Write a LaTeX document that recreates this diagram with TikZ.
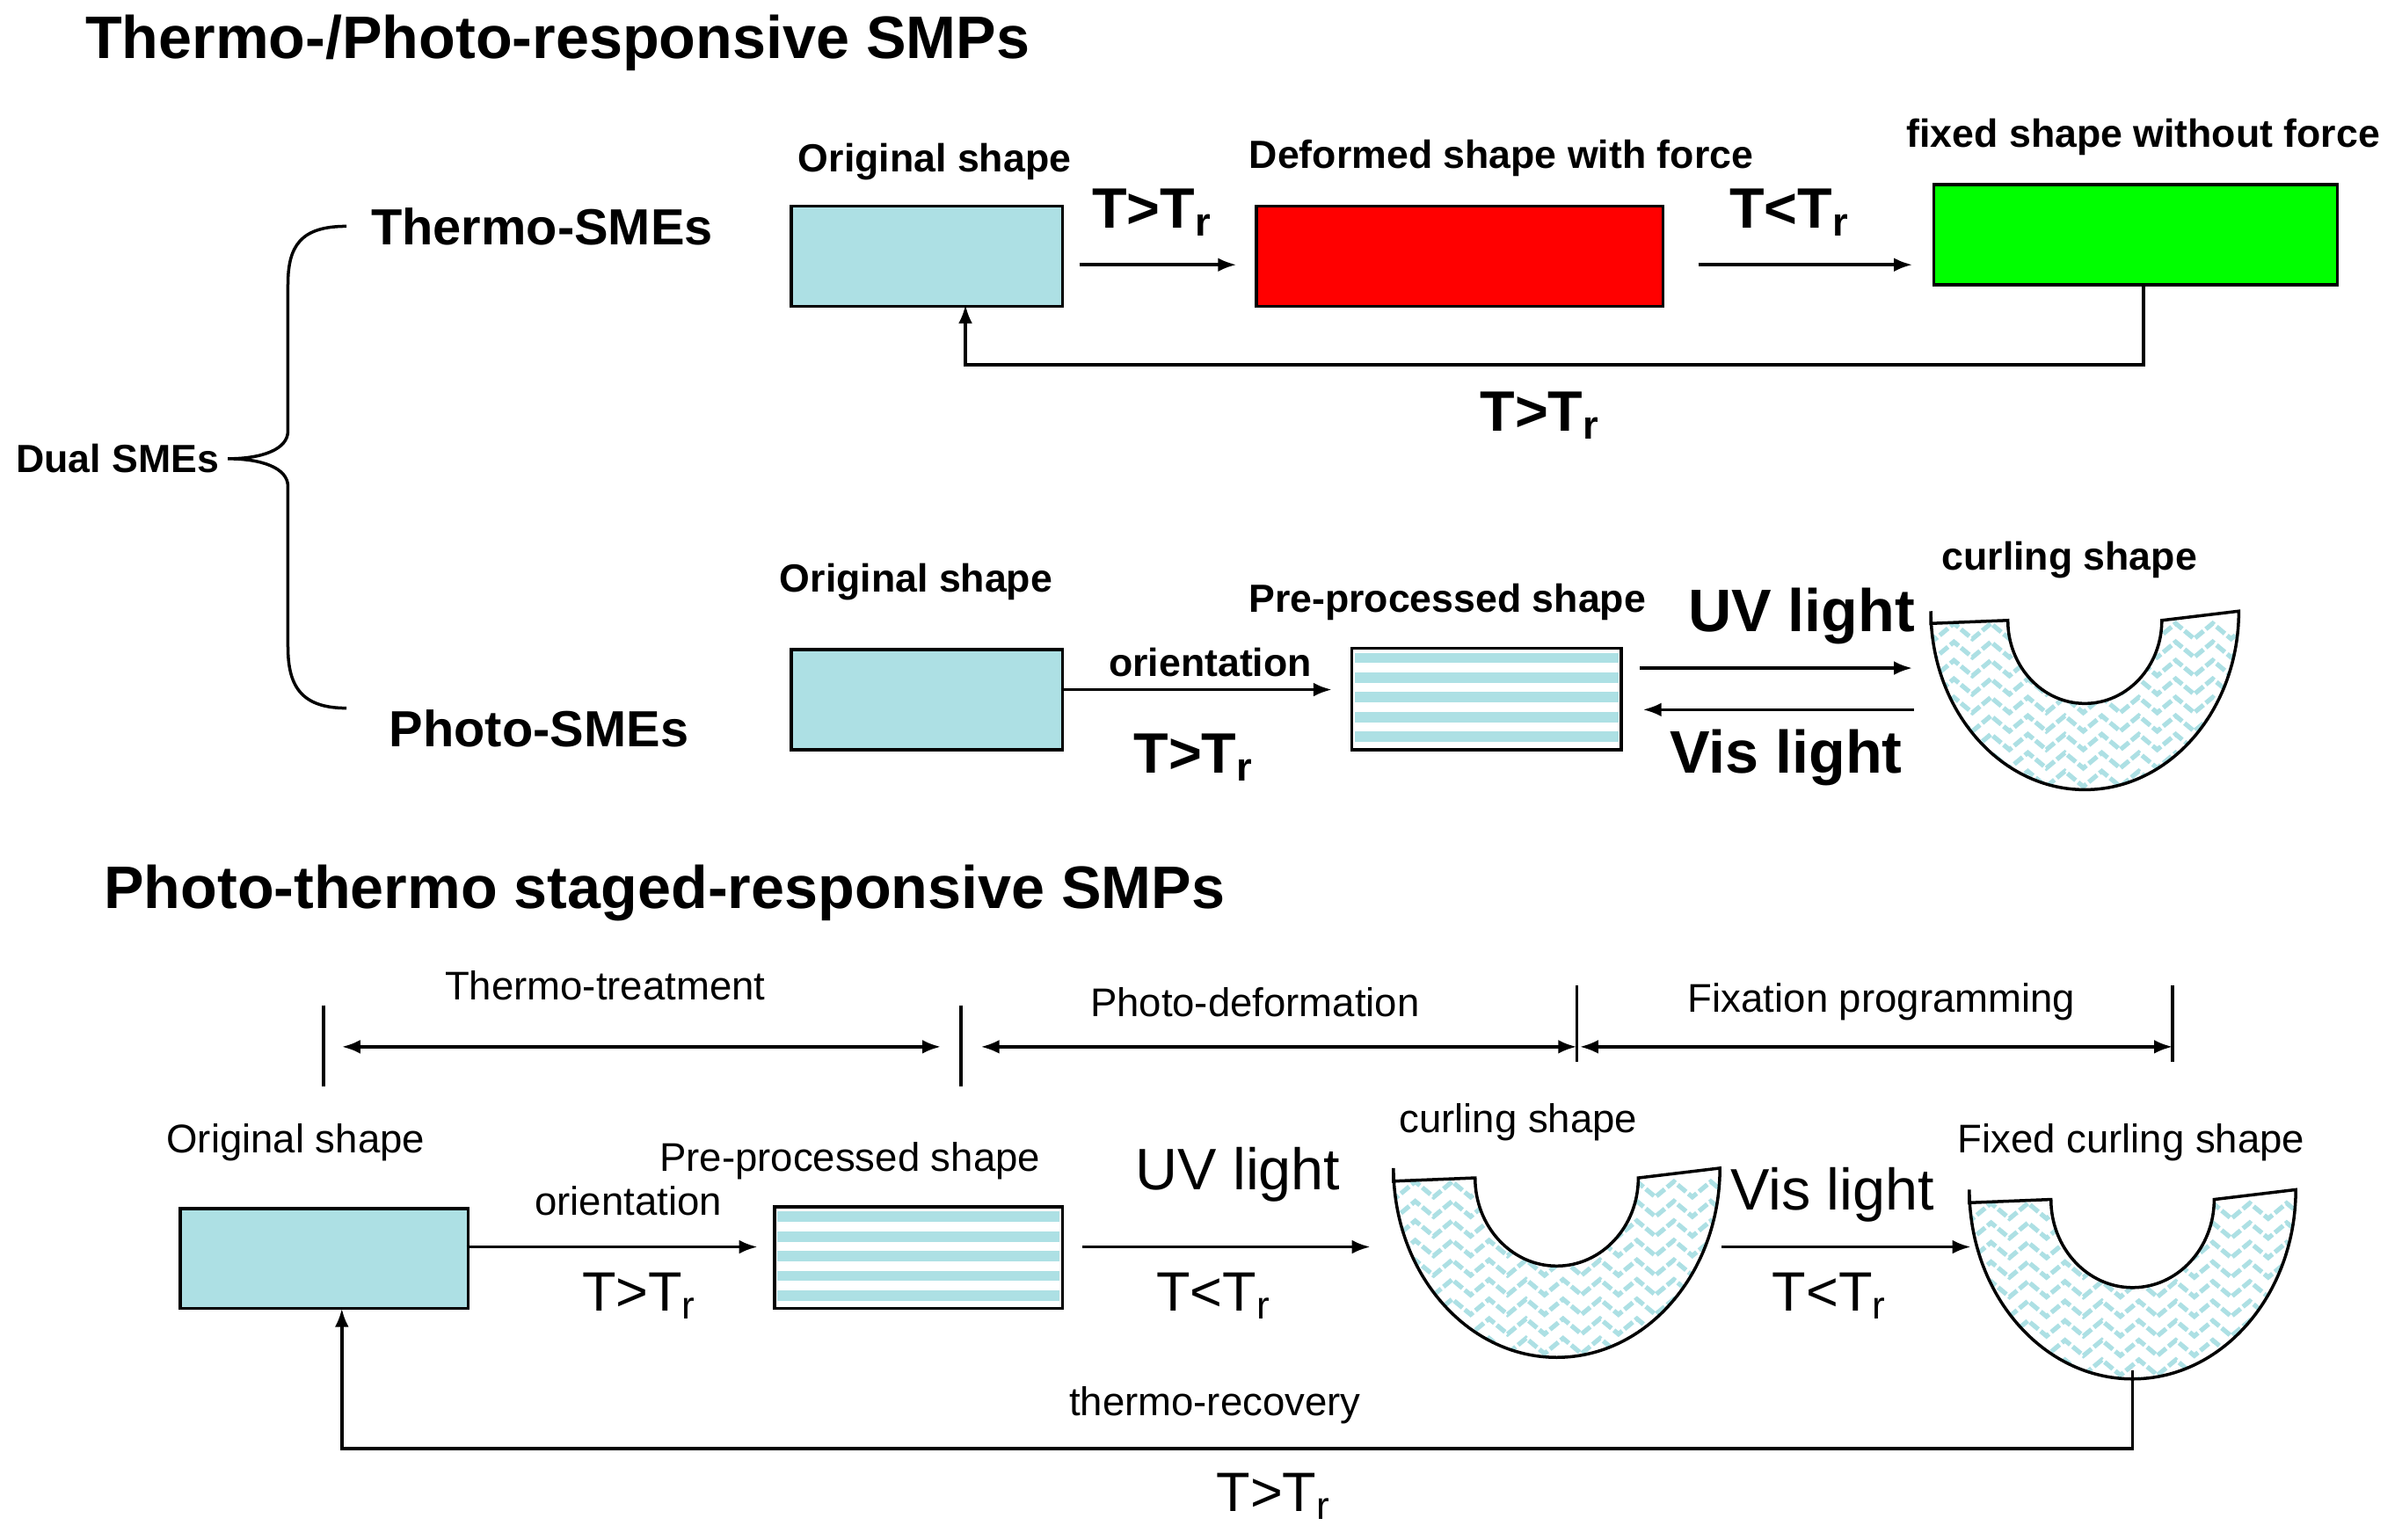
\documentclass[tikz,border=0pt]{standalone}
\usepackage{fontspec}
\setmainfont{Liberation Sans}
\usetikzlibrary{arrows.meta,decorations.pathmorphing}
\definecolor{lb}{RGB}{173,224,228}
\definecolor{gr}{RGB}{0,255,0}
\newcommand\curlpath{(-100,5) -- (-50,3) arc[start angle=180,end angle=0,x radius=50,y radius=54] -- (100,-3) arc[start angle=0,end angle=180,x radius=100,y radius=116] -- cycle}
\newcommand\curlshape[3]{%
\begin{scope}[shift={(#1,#2)},scale=#3]
 \begin{scope}
 \clip \curlpath;
 \foreach \r in {0,...,9}
  \draw[lb,line width=3,dash pattern=on 7pt off 2pt,decorate,decoration={zigzag,segment length=24,amplitude=5}] (-115,10+\r*12) -- (115,10+\r*12);
 \end{scope}
 \draw[line width=2] \curlpath;
\end{scope}}
\newcommand\TT[2]{T#1T\textsubscript{#2}}
\tikzset{
 box/.style={draw,line width=2,minimum width=176,minimum height=65,inner sep=0,anchor=north west},
 arr/.style={line width=2,-{Latex[length=12,width=9]}},
 ln/.style={line width=2},
 bl/.style={font=\bfseries\fontsize{25.5}{30}\selectfont},
 rl/.style={font=\fontsize{26}{30}\selectfont},
 bb/.style={font=\bfseries\fontsize{37}{42}\selectfont},
 rb/.style={font=\fontsize{36}{40}\selectfont},
 bm/.style={font=\bfseries\fontsize{33}{38}\selectfont},
 big/.style={font=\bfseries\fontsize{39}{44}\selectfont},
 rbig/.style={font=\fontsize{38}{44}\selectfont},
}
\newcommand\stripes[3]{\foreach \i in {0,...,4} \fill[lb] (#1+2,#2+3+\i*12.8) rectangle ++(#3-4,6.8);}
\begin{document}
\begin{tikzpicture}[x=1pt,y=-1pt]
\useasboundingbox (0,0) rectangle (1560,1000.4);
% titles
\node[anchor=west,font=\bfseries\fontsize{39}{44}\selectfont] (t1) at (52,28) {Thermo-/Photo-responsive SMPs};
\node[anchor=west,font=\bfseries\fontsize{39}{44}\selectfont] (t2) at (64,580) {Photo-thermo staged-responsive SMPs};
% brace
\draw[ln] (225,147) .. controls (195,147) and (187,160) .. (187,185) -- (187,280) .. controls (187,292) and (170,298) .. (148,298) .. controls (170,298) and (187,304) .. (187,316) -- (187,420) .. controls (187,445) and (195,460) .. (225,460);
\node[bl,anchor=west] (dual) at (7,298) {Dual SMEs};
\node[bm] (ts) at (352,147) {Thermo-SMEs};
\node[bm] (ps) at (350,473) {Photo-SMEs};
% row 1
\node[box,fill=lb] (b1) at (513,133) {};
\node[bl] (l1) at (607,105) {Original shape};
\node[box,fill=red,minimum width=264] (b2) at (815,133) {};
\node[bl] (l2) at (975,103) {Deformed shape with force};
\node[box,fill=gr,minimum width=262] (b3) at (1255,119) {};
\node[bl] (l3) at (1392,89) {fixed shape without force};
\coordinate (a1s) at (701,172); \coordinate (a1e) at (803,172);
\draw[arr] (a1s) -- (a1e);
\node[bb] (x1) at (748,138) {\TT{>}{r}};
\coordinate (a2s) at (1103,172); \coordinate (a2e) at (1242,172);
\draw[arr] (a2s) -- (a2e);
\node[bb] (x2) at (1162,138) {\TT{<}{r}};
\coordinate (r1) at (1392,184); \coordinate (r2) at (627,198);
\draw[arr] (r1) -- (1392,237) -- (627,237) -- (r2);
\node[bb] (x3) at (1000,270) {\TT{>}{r}};
% row 2
\node[box,fill=lb] (c1) at (513,421) {};
\node[bl] (m1) at (595,378) {Original shape};
\stripes{878}{421}{175}
\draw[line width=2] (878,421) rectangle (1053,487);
\node[bl] (m2) at (940,391) {Pre-processed shape};
\coordinate (o1) at (689,448); \coordinate (o2) at (865,448);
\draw[arr] (o1) -- (o2);
\node[bl] (m3) at (786,430) {orientation};
\node[bb] (y1) at (775,492) {\TT{>}{r}};
\coordinate (u1) at (1065,434); \coordinate (u2) at (1242,434);
\draw[arr] (u1) -- (u2);
\coordinate (v1) at (1243,461); \coordinate (v2) at (1067,461);
\draw[arr] (v1) -- (v2);
\node[big] (uv) at (1170,400) {UV light};
\node[big] (vis) at (1160,492) {Vis light};
\curlshape{1354}{400}{1}
\node[bl] (m4) at (1344,364) {curling shape};
% bottom section ticks
\draw[ln] (210,653) -- (210,706);
\draw[ln] (624,653) -- (624,706);
\draw[ln] (1024,640) -- (1024,690);
\draw[ln] (1411,640) -- (1411,690);
\draw[line width=2,{Latex[length=12,width=9]}-{Latex[length=12,width=9]}] (222,680) -- (611,680);
\draw[line width=2,{Latex[length=12,width=9]}-{Latex[length=12,width=9]}] (637,680) -- (1024,680);
\draw[line width=2,{Latex[length=12,width=9]}-{Latex[length=12,width=9]}] (1026,680) -- (1411,680);
\node[rl] (p1) at (393,640) {Thermo-treatment};
\node[rl] (p2) at (815,651) {Photo-deformation};
\node[rl] (p3) at (1222,651) {Fixation programming};
% bottom row
\node[box,fill=lb,minimum width=187] (d1) at (116,784) {};
\node[rl] (n1) at (192,742) {Original shape};
\stripes{503}{784}{187}
\draw[line width=2] (503,784) rectangle (690,850);
\node[rl] (n2) at (552,754) {Pre-processed shape};
\coordinate (e1) at (303,810); \coordinate (e2) at (492,810);
\draw[arr] (e1) -- (e2);
\node[rl] (n3) at (408,780) {orientation};
\node[rb] (z1) at (415,842) {\TT{>}{r}};
\coordinate (f1) at (703,810); \coordinate (f2) at (890,810);
\draw[arr] (f1) -- (f2);
\node[rbig] (n4) at (804,763) {UV light};
\node[rb] (z2) at (788,842) {\TT{<}{r}};
\curlshape{1011}{762}{1.06}
\node[rl] (n5) at (986,729) {curling shape};
\coordinate (g1) at (1118,810); \coordinate (g2) at (1280,810);
\draw[arr] (g1) -- (g2);
\node[rbig] (n6) at (1190,776) {Vis light};
\node[rb] (z3) at (1188,842) {\TT{<}{r}};
\curlshape{1385}{776}{1.06}
\node[rl] (n7) at (1384,742) {Fixed curling shape};
\coordinate (h1) at (1385,890); \coordinate (h2) at (222,850);
\draw[arr] (h1) -- (1385,941) -- (222,941) -- (h2);
\node[rl] (n8) at (789,913) {thermo-recovery};
\node[rb] (z4) at (827,972) {\TT{>}{r}};
\end{tikzpicture}
\end{document}
